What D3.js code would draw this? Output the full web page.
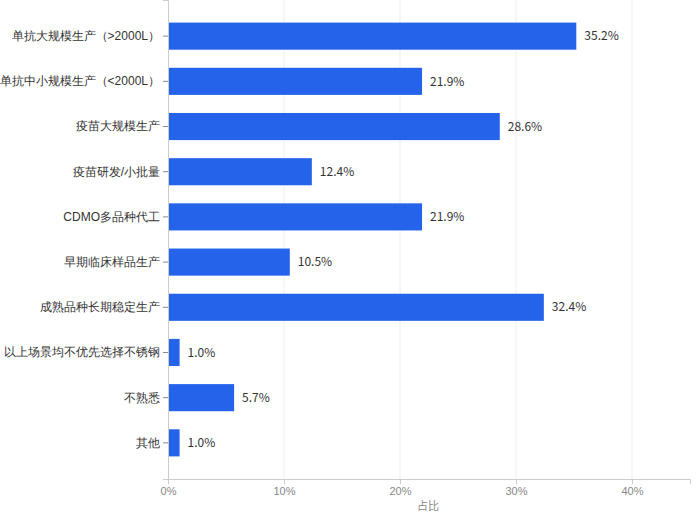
<!DOCTYPE html>
<html><head><meta charset="utf-8">
<script src="https://cdn.jsdelivr.net/npm/d3@7"></script>
<style>body{margin:0;background:#fff;font-family:"Noto Sans CJK SC","Noto Sans",sans-serif;}</style>
</head><body><svg id="c" width="700" height="520"></svg>
<script>
const categories = ["单抗大规模生产（>2000L）", "单抗中小规模生产（<2000L）", "疫苗大规模生产", "疫苗研发/小批量", "CDMO多品种代工", "早期临床样品生产", "成熟品种长期稳定生产", "以上场景均不优先选择不锈钢", "不熟悉", "其他"];
const values = [35.2, 21.9, 28.6, 12.4, 21.9, 10.5, 32.4, 1.0, 5.7, 1.0];
const ticks = [0, 10, 20, 30, 40];

const svg = d3.select("#c");
const left = 168, right = 690, bottom = 479;
const x = d3.scaleLinear().domain([0, 45]).range([left, right]);
const y = d3.scaleBand().domain(categories).range([0, bottom]).paddingInner(0.4).paddingOuter(0.5);

svg.append("g").selectAll("line").data(ticks.slice(1)).enter().append("line")
  .attr("x1", d => x(d)).attr("x2", d => x(d)).attr("y1", 0).attr("y2", bottom)
  .attr("stroke", "#eeeeee");

svg.append("g").selectAll("rect").data(values).enter().append("rect")
  .attr("x", x(0)).attr("y", (d, i) => y(categories[i]))
  .attr("width", d => x(d) - x(0)).attr("height", y.bandwidth())
  .attr("fill", "#2563eb");

svg.append("g").selectAll("text").data(values).enter().append("text")
  .attr("x", d => x(d) + 8).attr("y", (d, i) => y(categories[i]) + y.bandwidth() / 2)
  .attr("dy", "0.35em").attr("font-size", 12).attr("fill", "#333")
  .text(d => d.toFixed(1) + "%");

const xa = svg.append("g").attr("transform", `translate(0,${bottom})`)
  .call(d3.axisBottom(x).tickValues(ticks).tickFormat(d => d + "%").tickSize(5));
xa.select(".domain").attr("stroke", "#ccc");
xa.selectAll("line").attr("stroke", "#ccc");
xa.selectAll("text").attr("fill", "#888").attr("font-size", 11);

const ya = svg.append("g").attr("transform", `translate(${left},0)`)
  .call(d3.axisLeft(y).tickSize(5));
ya.select(".domain").attr("stroke", "#ccc");
ya.selectAll("line").attr("stroke", "#888");
ya.selectAll("text").attr("fill", "#333").attr("font-size", 12);

svg.append("text").attr("x", (left + right) / 2 - 1).attr("y", 510)
  .attr("text-anchor", "middle").attr("font-size", 11).attr("fill", "#888").text("占比");
</script></body></html>
